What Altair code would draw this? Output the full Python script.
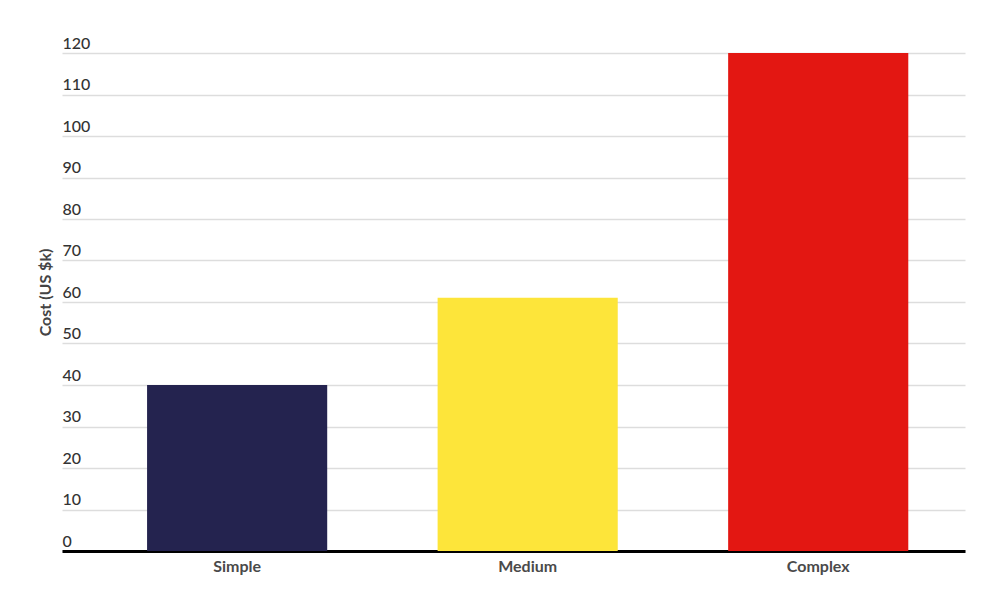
import altair as alt
import pandas as pd

categories = ["Simple", "Medium", "Complex"]
costs = [40, 61, 120]
colors = ["#24234F", "#FDE53A", "#E31712"]

df = pd.DataFrame({"category": categories, "cost": costs})

chart = alt.Chart(df).mark_bar().encode(
    x=alt.X("category:N", sort=categories, title=None,
            scale=alt.Scale(paddingInner=0.38, paddingOuter=0.244, align=0.6),
            axis=alt.Axis(labelAngle=0, labelFont="Lato", labelFontSize=16, labelFontWeight="bold",
                          labelColor="#4a4a4a", domainColor="#000000", domainWidth=3,
                          ticks=False, labelPadding=7, grid=False)),
    y=alt.Y("cost:Q", title="Cost (US $k)",
            scale=alt.Scale(domain=[0, 120], nice=False),
            axis=alt.Axis(values=list(range(0, 121, 10)), ticks=False, tickSize=0, domain=False,
                          labelAlign="left", labelBaseline="bottom", labelPadding=0, labelOffset=-2,
                          labelFont="Lato", labelFontSize=16, labelFontWeight=500, labelColor="#333333",
                          gridColor="#dddddd", gridWidth=1.5,
                          titleFont="Lato", titleFontSize=16, titleFontWeight="bold", titleColor="#444444",
                          titleX=-9, titleY=239, titleAngle=270)),
    color=alt.Color("category:N", scale=alt.Scale(domain=categories, range=colors), legend=None),
).properties(
    width=903, height=498,
    autosize=alt.AutoSizeParams(type="none"),
    padding={"left": 54, "top": 45, "right": 20, "bottom": 30},
).configure_view(stroke=None)

chart.save("out.html", embed_options={"renderer": "svg", "actions": False})
